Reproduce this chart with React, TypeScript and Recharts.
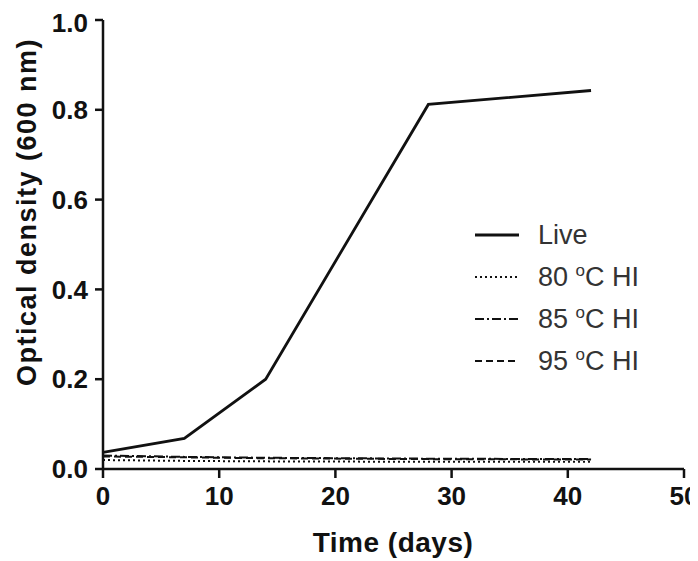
import { LineChart, Line, XAxis, YAxis, Legend } from 'recharts';

const days = [0, 7, 14, 28, 42];
const live = [0.037, 0.068, 0.2, 0.812, 0.843];
const hi80 = [0.02, 0.018, 0.017, 0.016, 0.016];
const hi85 = [0.03, 0.027, 0.025, 0.023, 0.022];
const hi95 = [0.028, 0.026, 0.024, 0.022, 0.021];
const xTicks = [0, 10, 20, 30, 40, 50];
const yTicks = [0, 0.2, 0.4, 0.6, 0.8, 1.0];

const data = days.map((d, i) => ({ day: d, live: live[i], hi80: hi80[i], hi85: hi85[i], hi95: hi95[i] }));

const series = [
  { key: 'live', label: 'Live', dash: undefined, width: 2.8 },
  { key: 'hi80', label: '80', dash: '2 3', width: 2 },
  { key: 'hi85', label: '85', dash: '9 3 2 3', width: 2 },
  { key: 'hi95', label: '95', dash: '7 4', width: 2 },
];

const font = '"Liberation Sans", Arial, sans-serif';
const tickStyle = { fill: '#111', fontSize: 26, fontWeight: 'bold', fontFamily: font };

function LegendBox() {
  return (
    <div style={{ fontFamily: font, fontSize: 27, color: '#333' }}>
      {series.map((s) => (
        <div key={s.key} style={{ display: 'flex', alignItems: 'center', height: 42 }}>
          <svg width={44} height={10} style={{ marginRight: 19 }}>
            <line x1={0} y1={5} x2={44} y2={5} stroke="#111" strokeWidth={s.width} strokeDasharray={s.dash} />
          </svg>
          {s.key === 'live' ? (
            <span>Live</span>
          ) : (
            <span>
              {s.label} <sup style={{ fontSize: 17 }}>o</sup>C HI
            </span>
          )}
        </div>
      ))}
    </div>
  );
}

export default function App() {
  return (
    <LineChart width={690} height={553} data={data} margin={{ top: 12, right: 14, left: 0, bottom: 0 }}>
      <XAxis
        dataKey="day"
        type="number"
        domain={[0, 50]}
        ticks={xTicks}
        stroke="#111"
        strokeWidth={2.5}
        tickSize={9}
        tickMargin={9}
        height={92}
        tick={tickStyle}
        label={{
          content: () => (
            <text x={385} y={544} textAnchor="middle" fill="#111" fontSize={28} fontWeight="bold" fontFamily={font} letterSpacing={0.5}>
              Time (days)
            </text>
          ),
        }}
      />
      <YAxis
        type="number"
        domain={[0, 1]}
        ticks={yTicks}
        tickFormatter={(v: number) => v.toFixed(1)}
        stroke="#111"
        strokeWidth={2.5}
        tickSize={8}
        tickMargin={7}
        width={95}
        tick={tickStyle}
        label={{
          content: () => (
            <text x={19} y={204} transform="rotate(-90, 19, 204)" textAnchor="middle" dominantBaseline="central" fill="#111" fontSize={27} fontWeight="bold" fontFamily={font} letterSpacing={1.5}>
              Optical density (600 nm)
            </text>
          ),
        }}
      />
      <Legend
        content={<LegendBox />}
        layout="vertical"
        verticalAlign="middle"
        align="center"
        wrapperStyle={{ left: 467, top: 206, width: 220 }}
      />
      {series.map((s) => (
        <Line
          key={s.key}
          dataKey={s.key}
          stroke="#111"
          strokeWidth={s.width}
          strokeDasharray={s.dash}
          dot={false}
          isAnimationActive={false}
          type="linear"
        />
      ))}
    </LineChart>
  );
}
